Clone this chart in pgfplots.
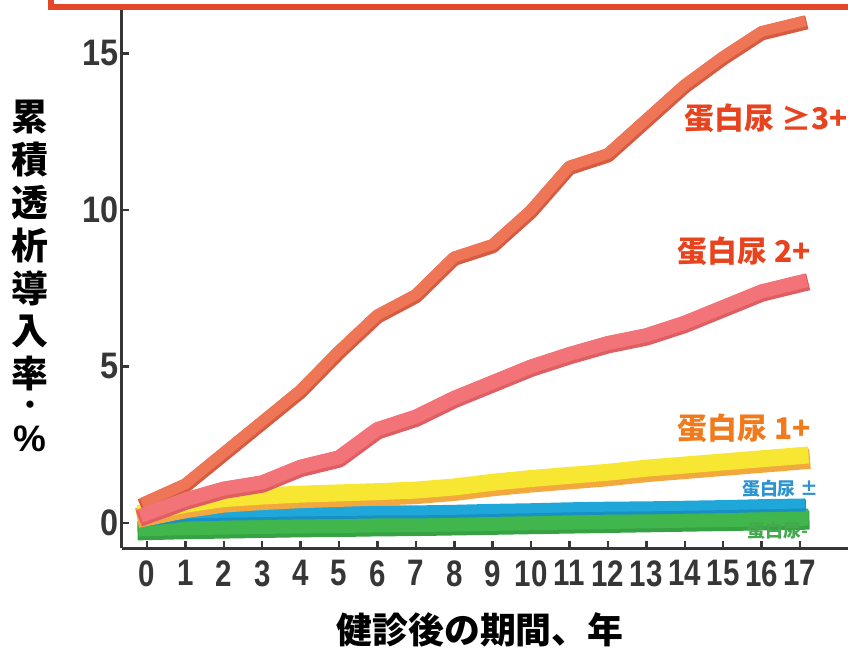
\documentclass[border=0pt]{standalone}
\usepackage{fontspec}
\usepackage{graphicx}
\usepackage{pgfplots}
\usepackage{pgfplotstable}
\pgfplotsset{compat=1.18}
\setmainfont{Liberation Sans}
\newfontfamily\jp{Noto Sans CJK JP}

\definecolor{axisgray}{HTML}{363636}
\definecolor{boxred}{HTML}{E4462A}
% band colours (face / darker lower edge)
\definecolor{bandA}{HTML}{EE7656}\definecolor{bandAd}{HTML}{D65B40}
\definecolor{bandB}{HTML}{F27478}\definecolor{bandBd}{HTML}{DE5E62}
\definecolor{bandC}{HTML}{F7E632}\definecolor{bandCd}{HTML}{F2A83C}
\definecolor{bandD}{HTML}{1FA7DA}\definecolor{bandDd}{HTML}{1890C4}
\definecolor{bandE}{HTML}{40B64D}\definecolor{bandEd}{HTML}{36A244}
% label colours
\definecolor{txtA}{HTML}{E8431F}
\definecolor{txtC}{HTML}{F07A1C}
\definecolor{txtD}{HTML}{2A93D0}
\definecolor{txtE}{HTML}{43A94D}

% cumulative dialysis incidence (%) by years after screening
\pgfplotstableread{
year neg   pm    p1    p2    p3
0    -0.15 0.15  0.35  0.30  0.70
1    -0.12 0.30  0.60  0.75  1.25
2    -0.10 0.33  0.78  1.10  2.25
3    -0.08 0.35  0.86  1.30  3.25
4    -0.06 0.37  0.92  1.80  4.25
5    -0.05 0.38  0.96  2.10  5.50
6    -0.03 0.40  1.00  3.00  6.65
7    -0.02 0.40  1.05  3.40  7.30
8     0.00 0.42  1.15  4.00  8.50
9     0.02 0.45  1.30  4.50  8.90
10    0.04 0.47  1.42  5.00 10.00
11    0.06 0.50  1.52  5.40 11.40
12    0.08 0.52  1.62  5.75 11.80
13    0.10 0.53  1.75  6.00 12.90
14    0.12 0.55  1.85  6.40 14.00
15    0.14 0.57  1.95  6.90 14.90
16    0.16 0.60  2.05  7.40 15.70
17    0.18 0.62  2.15  7.70 16.00
}\rates

\begin{document}
\begin{tikzpicture}
\useasboundingbox (-122bp,-102bp) rectangle (726bp,548bp);
\begin{axis}[
  at={(0,0)}, anchor=south west,
  scale only axis, width=726bp, height=540bp,
  xmin=-0.65, xmax=18.25, ymin=-0.8, ymax=16.45,
  axis lines*=left,
  axis line style={axisgray, line width=3bp},
  xtick={0,...,17}, ytick={0,5,10,15},
  tick align=inside, major tick length=7bp,
  tick style={axisgray, line width=2.5bp},
  /pgf/number format/assume math mode=true,
  ticklabel style={font=\fontsize{37}{40}\selectfont\bfseries, text=axisgray},
  xticklabel={\scalebox{0.8}[1]{\pgfmathprintnumber{\tick}}},
  yticklabel={\scalebox{0.88}[1]{\pgfmathprintnumber{\tick}}},
  xticklabel style={yshift=-9bp},
  every axis x label/.style={at={(rel axis cs:0,0)}, xshift=358bp, yshift=-82bp,
    anchor=center, font=\jp\bfseries\fontsize{36}{40}\selectfont},
  every axis y label/.style={at={(rel axis cs:0,0)}, xshift=-92bp, yshift=272bp,
    anchor=center, align=center, font=\jp\bfseries\fontsize{37}{43}\selectfont},
  xlabel={健診後の期間、年},
  ylabel={累\\積\\透\\析\\導\\入\\率\\[-16bp]{\fontsize{26}{26}\selectfont ・}\\[-6bp]{\rmfamily\%}},
  clip=false,
  every axis plot/.append style={line join=round, line cap=rect},
]
% proteinuria (-)
\addplot[bandEd, line width=19bp, yshift=-3bp] table[x=year, y=neg] {\rates};
\addplot[bandE, line width=17bp] table[x=year, y=neg] {\rates};
% proteinuria (+/-)
\addplot[bandDd, line width=12bp, yshift=-2bp] table[x=year, y=pm] {\rates};
\addplot[bandD, line width=10bp] table[x=year, y=pm] {\rates};
% proteinuria 1+
\addplot[bandCd, line width=20bp, yshift=-4bp] table[x=year, y=p1] {\rates};
\addplot[bandC, line width=17bp] table[x=year, y=p1] {\rates};
% proteinuria >=3+
\addplot[bandAd, line width=14bp, yshift=-2bp] table[x=year, y=p3] {\rates};
\addplot[bandA, line width=11bp] table[x=year, y=p3] {\rates};
% proteinuria 2+
\addplot[bandBd, line width=17bp, yshift=-2bp] table[x=year, y=p2] {\rates};
\addplot[bandB, line width=14bp] table[x=year, y=p2] {\rates};

\begin{scope}[font=\jp\bfseries\fontsize{30}{32}\selectfont]
\node[text=txtA] at (axis cs:16.12,12.94) {蛋白尿 ≥3+};
\node[text=txtA] at (axis cs:15.55,8.69) {蛋白尿 2+};
\node[text=txtC] at (axis cs:15.55,3.04) {蛋白尿 1+};
\end{scope}
\begin{scope}[font=\jp\bfseries\fontsize{18}{20}\selectfont]
\node[text=txtD] at (axis cs:16.48,1.09) {蛋白尿 ±};
\node[text=txtE] at (axis cs:16.43,-0.26) {蛋白尿-};
\end{scope}
\end{axis}
\draw[boxred, line width=6bp] (-71bp,570bp) -- (-71bp,541bp) -- (740bp,541bp);
\end{tikzpicture}
\end{document}
